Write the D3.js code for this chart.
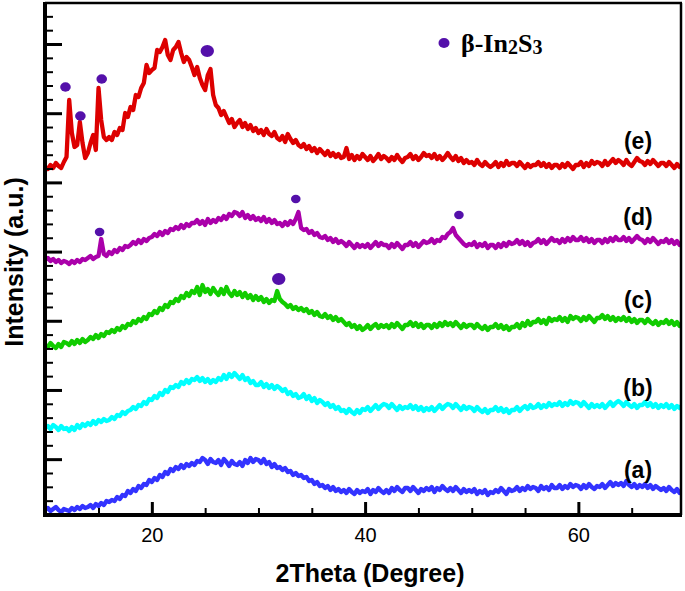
<!DOCTYPE html>
<html>
<meta charset="utf-8">
<style>
  body { margin: 0; padding: 0; background: #ffffff; }
  text { font-family: "Liberation Sans", Arial, sans-serif; }
  .tick-label { font-size: 20px; }
  .axis-title { font-size: 25px; font-weight: bold; }
  .curve-label { font-size: 23px; font-weight: bold; }
  .legend-text { font-family: "Liberation Serif", "Times New Roman", serif; font-size: 26px; font-weight: bold; }
</style>
<body>
<script src="https://d3js.org/d3.v7.min.js"></script>
<script>

// 2Theta sampling: 10 to 70 deg, step 0.25
var thetaStart = 10, thetaStep = 0.25, thetaCount = 241;

// x axis ticks
var xMajorTicks = [20, 40, 60];
var xMinorTicks = [15, 25, 30, 35, 45, 50, 55, 65];

// intensities (a.u.), one value per 0.25 deg
var intensityA = [
  5,7,4,6,8,5,3,6, 5,4,7,5,8,6,9,7, 8,10,7,11,9,12,10,14, 13,15,14,18,16,20,19,24,
  22,26,24,29,27,31,30,35, 33,37,35,40,38,43,41,46, 44,48,46,50,47,51,49,52, 50,54,53,57,55,51,56,53,
  52,55,50,56,53,49,54,51, 50,53,49,55,52,57,53,56, 55,52,56,51,53,48,51,47, 48,45,47,43,44,40,42,39,
  40,37,38,34,35,31,33,29, 30,27,29,25,28,24,26,23, 25,22,26,23,21,25,22,24, 23,26,21,25,23,27,24,22,
  25,22,27,24,28,25,23,27, 27,24,28,25,22,26,24,27, 25,28,23,27,25,29,26,24, 27,24,28,25,22,26,23,25,
  23,26,21,24,22,25,20,23, 22,25,23,27,24,21,26,24, 25,28,24,27,25,29,26,28, 27,24,29,26,28,25,30,27,
  27,30,26,29,27,31,28,30, 29,26,30,27,31,28,26,29, 28,31,27,30,33,29,32,30, 32,29,34,30,28,31,27,30,
  28,31,27,30,26,29,27,25, 27,24,28,25,23,26,22,25, 23
];
var intensityB = [
  87,89,86,90,88,85,89,86, 87,84,88,85,90,87,91,89, 92,90,94,91,95,93,96,94, 95,98,96,100,99,103,101,104,
  105,108,106,110,109,113,111,116, 115,119,117,122,120,125,123,128, 127,130,128,133,131,135,132,136, 135,138,134,137,133,136,132,135,
  133,137,135,140,136,141,138,142, 139,136,140,135,137,132,134,130, 130,133,128,131,127,130,126,129, 127,124,126,121,123,119,121,117,
  118,121,116,119,114,117,112,115, 113,110,112,108,110,106,108,104, 105,102,106,103,101,105,102,106, 105,108,104,107,110,106,109,111,
  110,107,111,108,105,109,106,108, 107,110,106,109,105,108,104,107, 105,108,104,107,110,106,109,111, 110,107,111,108,105,109,106,108,
  107,104,108,105,103,106,102,105, 105,108,104,107,103,106,102,105, 105,108,104,107,109,106,110,107, 108,111,107,110,108,112,109,111,
  110,113,109,112,110,114,111,113, 112,109,113,110,107,111,108,110, 108,111,107,110,113,109,112,114, 112,109,113,110,108,111,107,110,
  110,113,109,112,108,111,107,110, 108,111,107,110,106,109,107,110, 108
];
var intensityC = [
  170,168,172,169,167,171,168,173, 172,170,174,171,175,172,176,173, 175,178,176,180,177,181,179,183, 182,185,183,187,185,189,187,191,
  190,194,192,196,194,198,196,201, 200,204,202,207,205,210,208,213, 212,216,214,219,217,222,219,224, 222,228,220,230,223,226,221,227,
  223,220,226,221,228,222,219,224, 220,223,218,222,217,220,215,219, 215,218,213,216,212,215,214,224, 216,213,211,208,210,206,208,205,
  207,204,206,202,204,200,203,199, 198,201,197,199,195,198,194,196, 193,190,192,188,190,186,189,185, 187,190,186,189,191,187,190,188,
  190,187,191,188,192,189,186,190, 190,193,189,192,188,191,187,190, 190,187,191,188,192,189,193,190, 192,189,193,190,187,191,188,190,
  190,187,191,188,186,189,185,188, 188,191,187,190,186,189,185,188, 188,191,187,192,189,194,190,193, 193,196,192,195,191,197,194,196,
  195,198,194,197,193,199,196,198, 197,194,198,195,199,196,193,197, 197,200,196,199,195,198,194,197, 195,198,194,197,193,196,192,195,
  195,192,196,193,191,194,190,193, 192,195,191,194,190,193,189,192, 192
];
var intensityD = [
  255,257,254,256,253,255,252,254, 253,251,254,252,255,253,256,255, 257,259,256,258,259,276,261,259, 263,261,265,263,267,265,269,268,
  270,273,271,275,272,276,274,277, 278,281,279,283,280,284,282,286, 285,288,286,290,287,291,289,292, 292,295,291,294,290,296,292,295,
  293,297,295,299,296,301,299,303, 302,299,303,297,300,296,299,295, 297,294,298,293,296,292,295,291, 292,289,293,290,294,291,296,303,
  287,285,286,282,284,280,282,278, 277,279,275,277,273,276,272,274, 272,269,273,270,267,271,268,270, 268,271,267,270,273,269,272,270,
  270,267,271,268,272,269,266,270, 270,273,269,272,268,271,274,272, 273,276,272,275,274,278,277,281, 283,287,280,277,274,271,269,271,
  270,273,268,271,269,272,267,270, 270,267,271,268,272,269,273,271, 272,275,271,274,270,273,269,272, 273,276,272,275,271,274,277,274,
  275,272,276,273,277,274,278,275, 275,278,274,277,273,276,272,275, 275,272,276,273,277,274,278,275, 275,278,274,277,273,276,279,276,
  275,272,276,273,277,274,271,274, 273,276,272,275,271,274,270,272, 270
];
var intensityE = [
  348,346,350,347,352,349,347,353, 358,415,382,368,370,393,372,357, 362,372,380,365,427,395,378,375, 378,375,383,380,387,385,402,398,
  408,405,420,418,427,432,450,442, 445,447,465,463,468,475,460,455, 465,468,473,462,453,458,455,448, 440,448,437,430,425,440,446,420,
  410,407,400,404,398,392,396,388, 392,395,388,392,386,390,384,387, 382,385,380,386,381,379,383,377, 375,379,373,381,376,372,375,370,
  368,371,366,369,364,367,362,366, 363,360,364,359,362,358,361,357, 358,367,356,360,355,359,356,361, 358,355,359,354,357,361,356,359,
  357,354,358,355,360,356,353,357, 358,361,356,359,355,358,362,359, 360,357,361,356,359,355,358,362, 358,355,359,354,357,352,355,352,
  353,350,355,351,349,353,350,348, 350,353,348,352,349,354,350,352, 352,349,353,350,347,351,348,350, 350,353,349,352,348,351,347,350,
  350,347,351,348,352,349,346,350, 350,353,348,352,349,354,351,353, 352,349,354,350,353,356,352,355, 353,350,355,351,349,353,357,354,
  353,350,354,351,355,352,349,352, 352,349,353,350,347,351,348,350, 348
];

var curveNames = ["(a)", "(b)", "(c)", "(d)", "(e)"];

// beta-In2S3 reflections marked on the curves
var peakCurve = ["(e)", "(e)", "(e)", "(e)", "(d)", "(d)", "(d)", "(c)"];
var peakTheta = [11.9, 13.3, 15.3, 25.2, 15.1, 33.5, 48.8, 31.9];
var peakLevel = [428, 399, 436, 464, 283, 316, 300, 236];

var W = 685, H = 591;
var plot = {left: 45, top: 3, right: 681, bottom: 515};

var svg = d3.select("body").append("svg")
    .attr("width", W)
    .attr("height", H);

var x = d3.scaleLinear().domain([10, 70]).range([45.2, 685]);
var y = d3.scaleLinear().domain([0, 512]).range([plot.bottom, plot.top]);

var theta = d3.range(thetaCount).map(function(i) { return thetaStart + i * thetaStep; });

svg.append("clipPath").attr("id", "plotclip")
  .append("rect")
    .attr("x", plot.left).attr("y", plot.top)
    .attr("width", plot.right - plot.left).attr("height", plot.bottom - plot.top);

var colors = {"(a)": "#3333ff", "(b)": "#00ffff", "(c)": "#11cc00", "(d)": "#aa00aa", "(e)": "#dd0000"};
var allValues = [intensityA, intensityB, intensityC, intensityD, intensityE];

var line = d3.line()
    .x(function(d, i) { return x(theta[i]); })
    .y(function(d) { return y(d); });

var curves = svg.append("g").attr("clip-path", "url(#plotclip)");
curveNames.forEach(function(name, k) {
  curves.append("path")
    .datum(allValues[k])
    .attr("d", line)
    .attr("fill", "none")
    .attr("stroke", colors[name])
    .attr("stroke-width", 4.3)
    .attr("stroke-linejoin", "round");
});

// curve labels
var labelY = {"(a)": 470, "(b)": 388, "(c)": 300, "(d)": 217, "(e)": 141};
curveNames.forEach(function(name) {
  svg.append("text")
    .attr("class", "curve-label")
    .attr("x", 638)
    .attr("y", labelY[name] + 8)
    .attr("text-anchor", "middle")
    .text(name);
});

// peak markers
var bigPeaks = {3: true, 7: true};
svg.append("g").selectAll("ellipse")
  .data(peakTheta)
  .join("ellipse")
    .attr("cx", function(d) { return x(d); })
    .attr("cy", function(d, i) { return y(peakLevel[i]); })
    .attr("rx", function(d, i) { return bigPeaks[i] ? 6.7 : (peakCurve[i] == "(d)" ? 4.8 : 5.3); })
    .attr("ry", function(d, i) { return bigPeaks[i] ? 5.9 : (peakCurve[i] == "(d)" ? 4.2 : 4.7); })
    .attr("fill", "#5410aa");

// frame
svg.append("line").attr("x1", plot.left).attr("x2", plot.right + 1).attr("y1", plot.top).attr("y2", plot.top)
  .attr("stroke", "#000").attr("stroke-width", 2.5);
svg.append("line").attr("x1", plot.right).attr("x2", plot.right).attr("y1", plot.top).attr("y2", plot.bottom)
  .attr("stroke", "#000").attr("stroke-width", 2.5);

// x axis (ticks point inward)
var xMajor = svg.append("g")
    .attr("transform", "translate(0," + plot.bottom + ")")
    .call(d3.axisBottom(x).tickValues(xMajorTicks).tickSize(-13).tickPadding(13).tickFormat(d3.format("d")));
var xMinor = svg.append("g")
    .attr("transform", "translate(0," + plot.bottom + ")")
    .call(d3.axisBottom(x).tickValues(xMinorTicks).tickSize(-7).tickFormat(""));
[xMajor, xMinor].forEach(function(g) { g.select(".domain").remove(); });
xMajor.selectAll("line").attr("stroke-width", 3);
xMinor.selectAll("line").attr("stroke-width", 2);
xMajor.selectAll("text").attr("class", "tick-label").attr("font-size", null).attr("font-family", null).attr("fill", "#000");

// y axis, no labels: 36 ticks, every fifth long
var ySteps = d3.range(1, 37);
var yTickPos = function(k) { return y(k * 512 / 37); };
var yMajorG = svg.append("g")
    .attr("transform", "translate(" + plot.left + ",0)");
yMajorG.selectAll("line")
  .data(ySteps)
  .join("line")
    .attr("x1", 0)
    .attr("x2", function(k) { return (k + 1) % 5 == 0 ? 17 : 8; })
    .attr("y1", yTickPos)
    .attr("y2", yTickPos)
    .attr("stroke", "#000")
    .attr("stroke-width", function(k) { return (k + 1) % 5 == 0 ? 3 : 2; });

svg.append("line").attr("x1", plot.left).attr("x2", plot.left).attr("y1", plot.top - 1).attr("y2", plot.bottom + 2)
  .attr("stroke", "#000").attr("stroke-width", 4);
svg.append("line").attr("x1", plot.left - 2).attr("x2", plot.right + 1).attr("y1", plot.bottom).attr("y2", plot.bottom)
  .attr("stroke", "#000").attr("stroke-width", 4);

// axis titles
svg.append("text")
  .attr("class", "axis-title")
  .attr("x", 370)
  .attr("y", 582)
  .attr("text-anchor", "middle")
  .text("2Theta (Degree)");
svg.append("text")
  .attr("class", "axis-title")
  .attr("transform", "rotate(-90)")
  .attr("x", -262)
  .attr("y", 23)
  .attr("text-anchor", "middle")
  .text("Intensity (a.u.)");

// legend
svg.append("ellipse")
  .attr("cx", 444).attr("cy", 43).attr("rx", 5.5).attr("ry", 5)
  .attr("fill", "#5410aa");
var leg = svg.append("text").attr("class", "legend-text").attr("x", 461).attr("y", 52);
leg.append("tspan").text("β-In");
leg.append("tspan").attr("font-size", "20px").attr("dy", 2).text("2");
leg.append("tspan").attr("dy", -2).text("S");
leg.append("tspan").attr("font-size", "20px").attr("dy", 2).text("3");

</script>
</body>
</html>
